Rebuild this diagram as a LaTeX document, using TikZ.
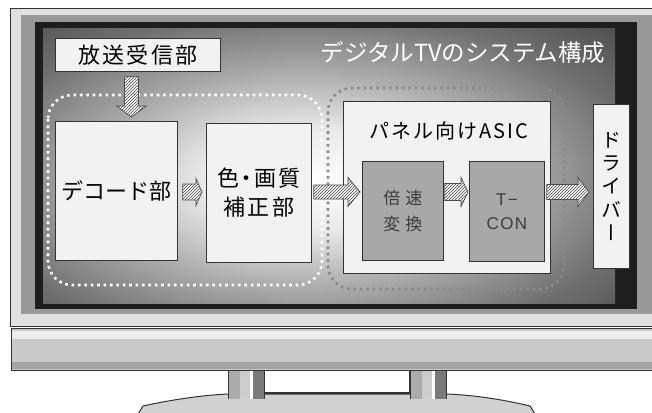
\documentclass[tikz,border=0pt]{standalone}
\usepackage{fontspec}
\usetikzlibrary{calc,patterns}
\newfontfamily\jp{Noto Sans CJK JP}
\newfontfamily\jpsp[LetterSpace=10]{Noto Sans CJK JP}
\newfontfamily\jpsm[LetterSpace=10,RawFeature=+palt]{Noto Sans CJK JP}
\newfontfamily\jpwide[LetterSpace=30]{Noto Sans CJK JP}
\newfontfamily\jpv[RawFeature=+vert]{Noto Sans CJK JP}
\newfontfamily\lat[LetterSpace=8]{Liberation Sans}
\definecolor{frameL}{HTML}{E0E0E0}
\definecolor{frameM}{HTML}{999999}
\definecolor{scrK}{HTML}{1E1E1E}
\definecolor{boxF}{HTML}{F2F2F2}
\definecolor{boxG}{HTML}{A8A8A8}
\definecolor{edge}{HTML}{333333}
\definecolor{txtG}{HTML}{3C3C3C}
\definecolor{grpG}{HTML}{8A8A8A}
\pgfdeclareradialshading{scr}{\pgfpoint{0bp}{0bp}}{color(0bp)=(white); color(8bp)=(white!92!black); color(17bp)=(black!32); color(27bp)=(black!56); color(37bp)=(black!72); color(46bp)=(black!84); color(50bp)=(black!90)}
\tikzset{
  box/.style={draw=edge, line width=0.8pt, fill=boxF, anchor=north west, inner sep=0pt, align=center},
  gbox/.style={box, fill=boxG},
  hatch/.style={draw=black!70, line width=0.7pt, preaction={fill=white}, pattern=north east lines, pattern color=black!75},
  grp/.style={line width=2.6pt, dash pattern=on 2.6pt off 3.8pt, rounded corners=24pt},
}
\newcommand\harr[5]{%
  \draw[hatch] let \p1=(#1), \p2=(#2) in
    (\x1,\y1+#3) -- (\x2-#5,\y1+#3) -- (\x2-#5,\y1+#4) -- (\x2,\y1) --
    (\x2-#5,\y1-#4) -- (\x2-#5,\y1-#3) -- (\x1,\y1-#3) -- cycle;}
\newcommand\varr[5]{%
  \draw[hatch] let \p1=(#1), \p2=(#2) in
    (\x1-#3,\y1) -- (\x1-#3,\y2+#5) -- (\x1-#4,\y2+#5) -- (\x1,\y2) --
    (\x1+#4,\y2+#5) -- (\x1+#3,\y2+#5) -- (\x1+#3,\y1) -- cycle;}
\begin{document}
\begin{tikzpicture}[x=1pt,y=-1pt]
\useasboundingbox (0,0) rectangle (652,412);
\clip (0,0) rectangle (652,412);
\fill[white] (0,0) rectangle (652,412);
% --- stand ---
\filldraw[fill=black!18, draw=edge, line width=1pt]
  (138,414) -- (143,406) .. controls (175,399) and (205,395) .. (228,394) -- (446,394)
  .. controls (475,395) and (505,400) .. (530,406) -- (535,414) -- cycle;
\filldraw[fill=white, draw=edge, line width=1.2pt] (263,368) rectangle (410,393);
\foreach \px in {228,410}{
  \fill[black!33] (\px,368) rectangle (\px+12,399);
  \fill[black!20] (\px+12,368) rectangle (\px+22,399);
  \fill[white] (\px+22,368) rectangle (\px+25,399);
  \fill[black!52] (\px+25,368) rectangle (\px+36,399);
  \draw[edge, line width=1pt] (\px,368) -- (\px,399) (\px+36,368) -- (\px+36,399);
}
% --- bottom bar ---
\filldraw[fill=black!21, draw=edge, line width=1pt] (11,328) rectangle (670,370);
\fill[black!7] (12,331) rectangle (660,339);
\fill[black!36] (12,362) rectangle (660,369);
% --- frame ---
\filldraw[fill=frameL, draw=edge, line width=0.8pt] (10,8) rectangle (670,326);
\fill[frameM] (21,15) rectangle (660,314);
\fill[scrK] (35,22) rectangle (637,309);
\begin{scope}
  \clip (43,29) rectangle (628,303);
  \shade[shading=scr] (-5,25) rectangle (615,335);
\end{scope}
% --- title ---
\node[text=white, font=\jp\fontsize{23.5}{26}\selectfont] (title) at (463,53) {デジタルTVのシステム構成};
% --- group outlines ---
\draw[grp, white] (48,95) rectangle (322,285);
\draw[grp, grpG] (328,88) rectangle (564,289);
% --- boxes ---
\node[box, minimum width=165pt, minimum height=33pt, font=\jpsp\fontsize{22}{24}\selectfont] (recv) at (55,38) {放送受信部};
\node[box, minimum width=122pt, minimum height=139pt, font=\jp\fontsize{22}{24}\selectfont] (dec) at (55,121) {デコード部};
\node[box, minimum width=105pt, minimum height=139pt, font=\jpsm\fontsize{22}{29}\selectfont] (col) at (206,123) {色・画質\\補正部};
\node[box, minimum width=207pt, minimum height=172pt] (asic) at (343,101) {};
\node[font=\jpsp\fontsize{20}{22}\selectfont, anchor=center] (asiclbl) at ($(asic.north)+(2,30)$) {パネル向けASIC};
\node[gbox, minimum width=81pt, minimum height=99pt, text=txtG, font=\jpwide\fontsize{17}{26}\selectfont] (bai) at (362,161) {倍速\\変換};
\node[gbox, minimum width=75pt, minimum height=100pt, text=txtG, font=\lat\fontsize{17}{24}\selectfont] (tcon) at (469,161) {T−\\CON};
\node[box, minimum width=36pt, minimum height=164pt, font=\jpv\fontsize{20}{23.4}\selectfont] (drv) at (593,104) {ド\\ラ\\イ\\バ\\ー};
% --- arrows ---
\coordinate (ym) at (0,192);
\coordinate (a1s) at ($(recv.south)+(-6.5,5)$);
\coordinate (a1e) at ($(dec.north -| a1s)+(0,-4)$);
\varr{a1s}{a1e}{7pt}{15pt}{11pt}
\coordinate (a2s) at ($(dec.east |- ym)+(5,0)$);
\coordinate (a2e) at ($(col.west |- ym)+(-4,0)$);
\harr{a2s}{a2e}{8pt}{13.5pt}{6pt}
\coordinate (a3s) at ($(col.east |- ym)+(2,0)$);
\coordinate (a3e) at ($(bai.west |- ym)+(-2,0)$);
\harr{a3s}{a3e}{7pt}{14.5pt}{12pt}
\coordinate (a4s) at ($(bai.east |- ym)+(1,0)$);
\coordinate (a4e) at ($(tcon.west |- ym)+(-1,0)$);
\harr{a4s}{a4e}{8.5pt}{14.5pt}{7pt}
\coordinate (a5s) at ($(tcon.east |- ym)+(2,0)$);
\coordinate (a5e) at ($(drv.west |- ym)+(-4,0)$);
\harr{a5s}{a5e}{7.5pt}{14.5pt}{11pt}
\end{tikzpicture}
\end{document}
